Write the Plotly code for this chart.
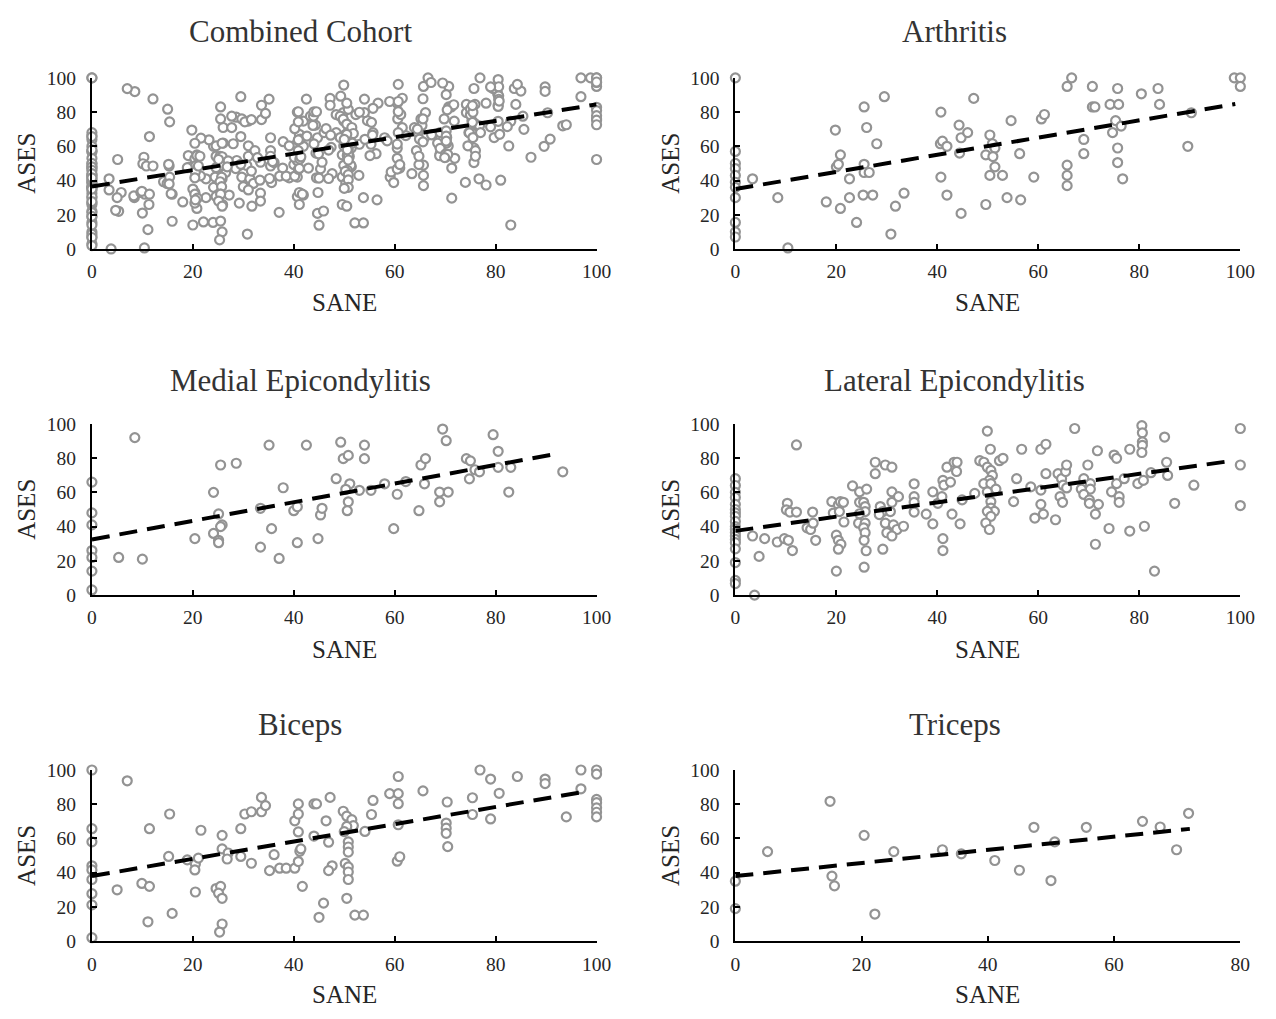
import plotly.graph_objects as go

W, H = 1276, 1019

# ---------------- data (SANE, ASES) ----------------
arthritis = [
    (0, 100), (0, 57), (0, 50), (0, 47), (0, 43), (0, 39), (0, 36), (0, 30), (0, 15.5), (0, 10), (0, 7),
    (3.4, 41), (8.4, 30), (10.4, 0.6), (18, 27.5), (19.8, 69.5), (20, 48), (20.4, 49.5), (20.8, 55), (20.8, 23.7),
    (22.6, 41), (22.6, 30), (24, 15.5), (25.3, 31.5), (25.5, 83), (25.5, 49.5), (25.5, 44.7), (26, 71), (26.5, 44.7),
    (27.2, 31.5), (28, 61.5), (29.5, 89), (30.8, 8.7), (31.7, 25), (33.4, 32.6),
    (40.7, 80), (40.6, 61.5), (41, 63), (40.7, 42), (41.9, 60), (41.9, 31.5), (44.3, 72.4), (44.4, 56), (44.7, 65),
    (44.7, 20.8), (46, 68), (47.2, 88),
    (49.6, 55), (49.6, 26), (50.4, 66.6), (50.9, 61.5), (51.4, 59), (51, 54), (51.4, 48), (50.4, 43), (52.9, 43),
    (53.8, 30), (54.6, 75), (56.3, 55.7), (56.5, 28.7), (59.1, 42), (60.6, 76), (61.2, 78.6),
    (65.7, 95), (66.6, 100), (65.7, 49), (65.7, 43), (65.7, 37), (69, 64), (69, 55.7),
    (70.7, 95), (70.7, 83), (71.2, 83), (74.2, 84.5), (75.9, 84.5), (75.7, 93.8), (75.3, 75), (76.4, 71.8),
    (74.7, 68), (75.7, 59), (75.7, 50.5), (76.7, 41),
    (80.4, 90.7), (83.7, 93.8), (84, 84.5), (90.3, 79.6), (89.6, 60), (98.8, 100), (100, 100), (100, 95),
]

medial = [
    (0, 66), (0, 48), (0, 41), (0, 26), (0, 22), (0, 14), (0, 3),
    (5.3, 22), (8.5, 92), (10, 21), (20.4, 33), (24.1, 60), (24.1, 36), (25.1, 47.4), (25.1, 32), (25.1, 30.6),
    (25.5, 76), (25.8, 41), (25.5, 40), (28.6, 77),
    (33.4, 50.7), (33.4, 28), (35.1, 87.6), (35.6, 38.8), (37.1, 21.4), (37.9, 62.7), (40, 49.3), (40.7, 51.6),
    (40.7, 30.6), (42.5, 87.6),
    (44.8, 33), (45.3, 46.8), (45.6, 50.7), (48.4, 68), (49.3, 89.3), (49.8, 79.7), (50.8, 81.6), (51.1, 65),
    (50.3, 61.8), (50.8, 54.5), (50.6, 49.3),
    (53, 61.2), (55.3, 61.2), (54, 87.6), (54, 79.7), (58, 65), (59.8, 38.8), (60.5, 58.9), (62.2, 66.3),
    (64.8, 49.3), (65.2, 76), (66.1, 79.7), (65.9, 65),
    (68.9, 60.2), (70.6, 60.2), (68.9, 54.5), (69.5, 97), (70.2, 90.2), (74.2, 79.7), (75, 78.4), (74.8, 67.9),
    (75.9, 73.2), (76.8, 72),
    (79.5, 93.7), (80.5, 84), (80.5, 74.6), (82.6, 60.2), (83, 74.6), (93.3, 72),
]

lateral = [
    (0, 68), (0, 64), (0, 60), (0, 57), (0, 53), (0, 50), (0, 48), (0, 46), (0, 43), (0, 40), (0, 38.5),
    (0, 36.5), (0, 34.5), (0, 32.5), (0, 30.6), (0, 27), (0, 19), (0, 8.6), (0, 6.7),
    (3.8, 0), (3.4, 34.5), (4.7, 22.6), (5.8, 33), (8.3, 31), (9.7, 33), (10.5, 32), (11.3, 26), (10.3, 53.6),
    (10.1, 49.8), (10.8, 48.5), (12.1, 48.5), (12.1, 87.7),
    (14.2, 39.3), (14.9, 38.3), (15.3, 48.5), (15.4, 42), (15.9, 32),
    (19.1, 54.6), (19.4, 47.9), (20.4, 52.7), (20.6, 48.8), (20.8, 54.6), (21.4, 54.2), (21.5, 42.7), (20, 35),
    (20.4, 32), (20.9, 29.7), (20.4, 26.8), (20, 14),
    (23.2, 63.8), (24.6, 60.3), (26, 61.9), (24.6, 54.2), (25.4, 54.2), (25.7, 51.7), (25.7, 48.8), (24.6, 47.5),
    (24.4, 42), (25.7, 42), (25.4, 39.3), (25.7, 36.4), (25.5, 32), (25.9, 25.9), (25.5, 16.3),
    (27.7, 77.6), (27.7, 70.9), (29.7, 76), (31, 74.7), (28.7, 51.7), (29.2, 48.8), (28.5, 47), (29.7, 42),
    (30, 36.4), (29.2, 26.8),
    (31, 60.3), (31, 54.2), (32.3, 57.5), (30.7, 48.8), (31.3, 41), (32, 38.3), (31, 34.5), (33.3, 40.2),
    (35.4, 65), (35.4, 57.5), (35.4, 54.2), (35.4, 48.5), (37.8, 47.3), (39.1, 60.3), (39.1, 41.6),
    (40.1, 53.6), (40.9, 57.5), (41.1, 67), (41.3, 64.2), (41.9, 74.7), (42.6, 66), (43.3, 77.6), (43.8, 72.2),
    (43.9, 77.6), (42.9, 47.3), (44.5, 41.6), (41.1, 33), (41.1, 26), (44.9, 55.6),
    (47.4, 59.4), (48.4, 78.5), (49.9, 95.8), (50.5, 85.2),
    (49.2, 77.6), (49.9, 74.7), (50.6, 72.8), (50.9, 69.9), (50.3, 67), (49.2, 65.1), (50.6, 65.1), (51.6, 61.9),
    (49.9, 60.3), (50.6, 54.6), (50.6, 50.8), (51.3, 48.9), (49.9, 48.9), (50.6, 46), (49.6, 42.1), (50.3, 38.3),
    (52.3, 78.5), (53, 79.9),
    (55.7, 68), (55.1, 54.6), (56.7, 85.2), (60.5, 85.2), (61.5, 88.1), (58.5, 63.2), (60.5, 61.3), (60.5, 53),
    (61, 47.3), (59.3, 45), (61.5, 70.9), (63.4, 44),
    (63.9, 70.9), (64.6, 68), (65.4, 72.2), (65.6, 76), (64.9, 64.2), (65.6, 62.6), (64.3, 57.5), (64.8, 54.2),
    (67.2, 97.3), (69, 68), (68.5, 61.9), (69.8, 76), (70.3, 65.1), (70.3, 61.9), (69, 58.8), (70.1, 55.6),
    (70.1, 53.6), (71.9, 53), (71.3, 47.3), (71.7, 84.3), (71.3, 29.7),
    (74, 38.9), (74.5, 60.3), (75, 81.8), (75.5, 79.9), (75.5, 65.1), (76, 57.5), (76, 54.2), (77, 68),
    (78.1, 85.2), (78.1, 37.4), (79.7, 65.1),
    (80.5, 99), (80.6, 94.8), (80.6, 89.5), (80.6, 87.5), (80.5, 83.3), (80.8, 67), (81, 40.2), (82.3, 71.5),
    (83, 14),
    (85, 92.3), (85.4, 77.6), (85.6, 69.9), (87, 53.6), (90.8, 64.2), (100, 97.3), (100, 76), (100, 52.3),
]

biceps = [
    (0, 100), (0, 65.7), (0, 58), (0, 44), (0, 41.6), (0, 36), (0, 27.7), (0, 21.2), (0, 2),
    (5, 30), (7, 93.7), (9.9, 33.7), (11.4, 32), (11.4, 65.7), (11.1, 11.3), (15.4, 74.3), (15.2, 49.5),
    (15.9, 16.2), (18.9, 47.5),
    (20.5, 45), (20.4, 41.6), (20.5, 28.7), (21.1, 48.5), (21.6, 64.8), (24.6, 30.7), (25.5, 32), (25.1, 28),
    (25.8, 25), (25.8, 10), (25.3, 5.3), (25.8, 61.8), (25.8, 53.9), (27, 51.5), (26.8, 48),
    (29.5, 65.7), (29.5, 49.5), (31.6, 45.5), (30.3, 74.3), (31.6, 75.6), (33.6, 75.6), (33.6, 84), (34.4, 79.2),
    (35.2, 41.2), (36.1, 50.5), (37.2, 42.6), (38.5, 42.6),
    (40.2, 42.6), (40.9, 46.5), (41.2, 52.5), (41.4, 53.9), (40.9, 63.8), (40.2, 70.3), (40.9, 74.3), (40.9, 80.2),
    (41.7, 32),
    (44, 80.2), (44.5, 80.2), (44, 61.4), (47.2, 84), (46.4, 70.3), (46.9, 57.8), (47.6, 44), (46.9, 41.2),
    (45.9, 22.2), (45, 13.9),
    (49.8, 75.9), (50.5, 73), (51.5, 71), (51.8, 67.5), (50.5, 67), (50, 64), (50.8, 58), (50.8, 55), (50.8, 52),
    (50.2, 45.4), (50.8, 43.4), (50.8, 40.4), (50.8, 36), (50.5, 25), (52.1, 15.2), (53.8, 15.2),
    (54.1, 64.1), (55.4, 74), (55.7, 82.2), (59, 86.2), (60.7, 96.2), (60.7, 86.2), (60.7, 80.3), (60.7, 68),
    (60.5, 46.7), (61, 49.3),
    (65.6, 87.8), (70.4, 81.3), (70.2, 69), (70.2, 66), (70.2, 63), (70.5, 55.2), (75.4, 83.8), (75.4, 74),
    (76.9, 100), (79, 94.7), (80.7, 86.4), (79, 71.4),
    (84.3, 96.2), (89.8, 94.7), (89.8, 92.1), (94, 72.6), (96.9, 100), (96.9, 89), (100, 100), (100, 97.6),
    (100, 82.8), (100, 80.9), (100, 77.9), (100, 75.3), (100, 72.6),
]

triceps = [
    (0, 35), (0, 19), (5.1, 52.3), (15, 81.7), (15.3, 38), (15.7, 32.3), (20.4, 61.8), (22.1, 15.8), (25.1, 52.3),
    (32.8, 53.4), (35.8, 51), (41.1, 47.1), (45, 41.4), (47.3, 66.5), (50, 35.4), (50.6, 58), (55.6, 66.5),
    (64.5, 70), (67.3, 66.7), (69.9, 53.4), (71.8, 74.7),
]

# the combined cohort is the union of the five groups
combined = arthritis + medial + lateral + biceps + triceps

# linear trend lines (end points)
trend_x = {
    "Combined Cohort": [0, 100], "Arthritis": [0, 99],
    "Medial Epicondylitis": [0, 92.5], "Lateral Epicondylitis": [0, 98.5],
    "Biceps": [0, 97], "Triceps": [0, 72],
}
trend_y = {
    "Combined Cohort": [36.5, 84.5], "Arthritis": [35, 84.7],
    "Medial Epicondylitis": [32.5, 82.8], "Lateral Epicondylitis": [37.5, 78.5],
    "Biceps": [38, 87], "Triceps": [38, 65.6],
}

titles = ["Combined Cohort", "Arthritis", "Medial Epicondylitis", "Lateral Epicondylitis", "Biceps", "Triceps"]
series = [combined, arthritis, medial, lateral, biceps, triceps]
x_max = [100, 100, 100, 100, 100, 80]
x_label = "SANE"
y_label = "ASES"

# ---------------- layout geometry (pixels) ----------------
col_px = [(88.3, 601), (742, 1255)]
row_px = [(69.3, 244), (422.6, 597.4), (776, 950.7)]
title_cx = [300, 965]
title_cy = [22, 378, 730]
xlab_cy = [299, 653, 1005]
ylab_cx = [21.7, 676]

FONT = "Liberation Serif, Times New Roman, serif"

fig = go.Figure()
annotations = []

for i, (name, pts, xm) in enumerate(zip(titles, series, x_max)):
    n = i + 1
    r, c = divmod(i, 2)
    xa = "x" if n == 1 else f"x{n}"
    ya = "y" if n == 1 else f"y{n}"
    xs = [p[0] for p in pts]
    ys = [p[1] for p in pts]
    fig.add_trace(go.Scatter(
        x=xs, y=ys, mode="markers", xaxis=xa, yaxis=ya, cliponaxis=False, showlegend=False,
        marker=dict(symbol="circle", size=9, color="white", line=dict(color="#939393", width=2.2)),
    ))
    fig.add_trace(go.Scatter(
        x=trend_x[name], y=trend_y[name], mode="lines", xaxis=xa, yaxis=ya, cliponaxis=False,
        showlegend=False, line=dict(color="black", width=4, dash="18px,10px"),
    ))
    x0, x1 = col_px[c]
    y0, y1 = row_px[r]
    common = dict(
        showline=True, linecolor="black", linewidth=2, ticks="inside", ticklen=5, tickwidth=2,
        tickcolor="black", showgrid=False, zeroline=False, fixedrange=True,
        tickfont=dict(family=FONT, size=19.5, color="#262626"),
    )
    fig.layout[f"xaxis{n if n > 1 else ''}"] = dict(
        domain=[x0 / W, x1 / W], range=[0, xm], tickvals=list(range(0, xm + 1, 20)),
        anchor=ya, ticklabelstandoff=4, **common,
    )
    fig.layout[f"yaxis{n if n > 1 else ''}"] = dict(
        domain=[1 - y1 / H, 1 - y0 / H], range=[0, 100], tickvals=list(range(0, 101, 20)),
        anchor=xa, ticklabelstandoff=10, **common,
    )
    annotations.append(dict(
        text=name, x=title_cx[c] / W, y=1 - title_cy[r] / H, xref="paper", yref="paper",
        xanchor="center", yanchor="middle", showarrow=False,
        font=dict(family=FONT, size=31, color="#333333"),
    ))
    annotations.append(dict(
        text=x_label, x=(x0 + x1) / 2 / W, y=1 - xlab_cy[r] / H, xref="paper", yref="paper",
        xanchor="center", yanchor="middle", showarrow=False,
        font=dict(family=FONT, size=25, color="#262626"),
    ))
    annotations.append(dict(
        text=y_label, x=ylab_cx[c] / W, y=1 - (y0 + y1) / 2 / H, xref="paper", yref="paper",
        xanchor="center", yanchor="middle", showarrow=False, textangle=-90,
        font=dict(family=FONT, size=25, color="#262626"),
    ))

fig.update_layout(
    width=W, height=H, margin=dict(l=0, r=0, t=0, b=0),
    paper_bgcolor="white", plot_bgcolor="white",
    annotations=annotations, showlegend=False,
)

fig.write_html(
    "out.html",
    config={"displayModeBar": False},
    post_script="document.body.style.margin='0';document.body.style.overflow='hidden';",
)
